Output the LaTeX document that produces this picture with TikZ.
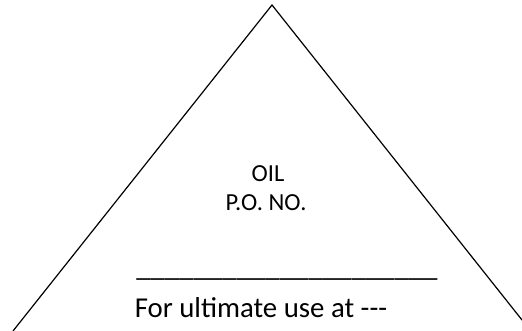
\documentclass[tikz,border=0pt]{standalone}
\usepackage{fontspec}
\setmainfont{Carlito}
\begin{document}
\begin{tikzpicture}[x=1pt,y=-1pt,
  edge/.style={line width=1.2pt, line cap=round},
  toptext/.style={anchor=base, inner sep=0pt, font=\fontsize{24.5}{29}\selectfont},
  bottext/.style={anchor=base, inner sep=0pt, font=\fontsize{28.8}{34}\selectfont}]
\useasboundingbox (0,0) rectangle (522,331);
\begin{scope}
\clip (0,0) rectangle (522,331);
\coordinate (apex) at (272,5);
\coordinate (left) at (13,331);
\coordinate (right) at (522,320);
\draw[edge] (left) -- (apex) -- (right);
\end{scope}
\node[toptext] (oil) at (268,181.7) {OIL};
\node[toptext] (po) at (266,211) {P.O. NO.};
\node[bottext] (rule) at (287,276) {\_\_\_\_\_\_\_\_\_\_\_\_\_\_\_\_\_\_\_\_\_};
\node[bottext] (use) at (261,317) {For ultimate use at -{}-{}-};
\end{tikzpicture}
\end{document}
